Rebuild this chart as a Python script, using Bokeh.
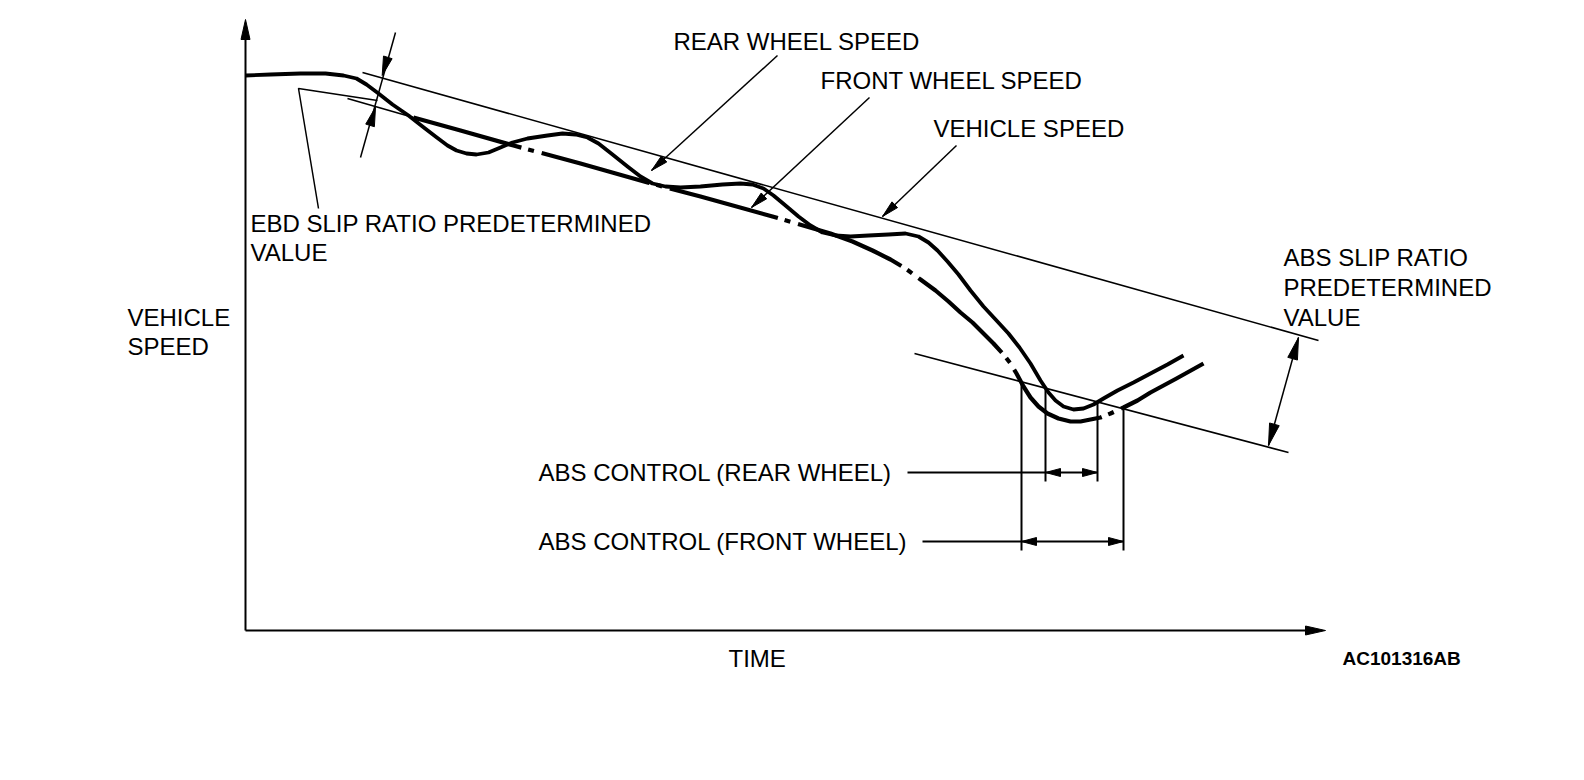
import math
from bokeh.plotting import figure
from bokeh.models import Range1d
from bokeh.core.properties import value
from bokeh.embed import file_html
from bokeh.resources import INLINE

# ---- data (time units along x, speed units along y; origin at axes corner) ----
rear_t = [0, 25, 55, 80, 98, 111, 121, 133, 147, 163, 177, 190, 202, 211, 221, 231, 243, 255, 267,
          282, 302, 317, 330, 342, 353, 367, 382, 395, 407, 420, 435, 455, 477, 495, 507, 518, 528,
          540, 553, 565, 577, 590, 605, 623, 643, 660, 673, 683, 692, 702, 713, 725, 738, 751, 763,
          774, 785, 795, 803, 810, 818, 828, 838, 848, 858, 872, 888, 905, 922, 938]
rear_v = [555, 556, 557, 557, 555, 552, 546, 537, 526, 515, 504, 494, 485, 480, 477, 476, 478, 483,
          488, 492, 495, 497, 496, 493, 487, 476, 464, 454, 447, 444, 443, 444, 446, 447, 446, 442,
          435, 425, 414, 405, 398, 395, 394, 395, 396, 397, 394, 388, 380, 369, 356, 340, 324, 310,
          297, 283, 267, 250, 238, 230, 224, 221, 222, 226, 232, 240, 248, 257, 266, 275]

front_t = [168, 215, 268, 335, 402, 455, 527, 585, 607, 627, 645, 660, 675, 690, 703, 715, 727, 738,
           748, 758, 765, 771, 778, 785, 793, 802, 813, 825, 835, 845, 855, 865, 878, 892, 905, 931,
           958]
front_v = [513, 500, 485, 467, 448, 434, 414, 397, 389, 380, 371, 362, 351, 340, 329, 318, 308, 297,
           287, 276, 267, 257, 244, 233, 224, 217, 212, 209, 209, 211, 213, 217, 223, 230, 238, 252,
           267]

vehicle_t = [117, 1073]
vehicle_v = [558, 290]

abs_limit_t = [669, 1043]
abs_limit_v = [277, 178]

ebd_limit_t = [102, 168]
ebd_limit_v = [532, 513]

ebd_leader_t = [73, 53, 132]
ebd_leader_v = [422, 542, 530]

# EBD dimension: outer ends and arrow tips
ebd_dim_end_t = [150, 115]
ebd_dim_end_v = [598, 473]
ebd_dim_tip_t = [136.7, 130]
ebd_dim_tip_v = [555, 523.3]

# ABS dimension tips (upper on vehicle speed, lower on ABS limit)
abs_dim_t = [1053, 1023]
abs_dim_v = [293, 185]

# ABS control boundaries
ctrl_t = [776, 800, 852, 878]
ctrl_top_v = [249, 243, 229, 222]
ctrl_bot_v = [80, 149, 149, 80]

rear_ctrl_v = 158
front_ctrl_v = 89
rear_ctrl_leader_t = 662
front_ctrl_leader_t = 677

# label pointers: (tail_t, tail_v, tip_t, tip_v)
pointer_tail_t = [532, 624, 711]
pointer_tail_v = [575, 533, 485]
pointer_tip_t = [406, 506, 637]
pointer_tip_v = [460, 423, 414]

axis_y_top = 611
axis_x_end = 1080

labels = ["REAR WHEEL SPEED", "FRONT WHEEL SPEED", "VEHICLE SPEED",
          "EBD SLIP RATIO PREDETERMINED", "VALUE",
          "VEHICLE", "SPEED",
          "ABS SLIP RATIO", "PREDETERMINED", "VALUE",
          "ABS CONTROL (REAR WHEEL)", "ABS CONTROL (FRONT WHEEL)", "TIME"]
label_t = [428, 575, 688, 5, 5, -118, -118, 1038, 1038, 1038, 293, 293, 483]
label_v = [589, 550, 502, 407, 378, 313, 284, 373, 343, 313, 158, 89, -28]

code_label = "AC101316AB"
code_t = 1097
code_v = -28

# ---- figure ----
p = figure(width=1568, height=764, x_range=Range1d(-245, 1323), y_range=Range1d(-134, 630),
           x_axis_type=None, y_axis_type=None, toolbar_location=None, output_backend="svg",
           min_border=0, outline_line_color=None, background_fill_color="white",
           border_fill_color="white")
p.grid.visible = False

BLACK = "black"


def head(tail_x, tail_y, tip_x, tip_y, L, W):
    dx, dy = tip_x - tail_x, tip_y - tail_y
    n = math.hypot(dx, dy)
    ux, uy = dx / n, dy / n
    bx, by = tip_x - L * ux, tip_y - L * uy
    px, py = -uy, ux
    return ([tip_x, bx + px * W / 2, bx - px * W / 2], [tip_y, by + py * W / 2, by - py * W / 2])


heads_x, heads_y = [], []


def add_head(*args):
    hx, hy = head(*args)
    heads_x.append(hx)
    heads_y.append(hy)


# axes
p.line([0, 0], [0, axis_y_top - 10], line_color=BLACK, line_width=2)
add_head(0, 0, 0, axis_y_top, 20, 9)
p.line([0, axis_x_end - 10], [0, 0], line_color=BLACK, line_width=2)
add_head(0, 0, axis_x_end, 0, 20, 9)

# thin reference lines
p.line(vehicle_t, vehicle_v, line_color=BLACK, line_width=1.6)
p.line(abs_limit_t, abs_limit_v, line_color=BLACK, line_width=1.6)
p.line(ebd_limit_t, ebd_limit_v, line_color=BLACK, line_width=1.6)
p.line(ebd_leader_t, ebd_leader_v, line_color=BLACK, line_width=1.5)

# EBD dimension
p.line(ebd_dim_end_t, ebd_dim_end_v, line_color=BLACK, line_width=1.5)
add_head(ebd_dim_end_t[0], ebd_dim_end_v[0], ebd_dim_tip_t[0], ebd_dim_tip_v[0], 19, 9)
add_head(ebd_dim_end_t[1], ebd_dim_end_v[1], ebd_dim_tip_t[1], ebd_dim_tip_v[1], 19, 9)

# ABS dimension
p.line(abs_dim_t, abs_dim_v, line_color=BLACK, line_width=1.5)
add_head(abs_dim_t[1], abs_dim_v[1], abs_dim_t[0], abs_dim_v[0], 22, 10)
add_head(abs_dim_t[0], abs_dim_v[0], abs_dim_t[1], abs_dim_v[1], 22, 10)

# wheel speed curves
p.line(rear_t, rear_v, line_color=BLACK, line_width=3.8, line_join="round")
p.line(front_t, front_v, line_color=BLACK, line_width=4.2, line_dash="112 7 6 8", line_join="round")

# ABS control verticals
for t, v0, v1 in zip(ctrl_t, ctrl_bot_v, ctrl_top_v):
    p.line([t, t], [v0, v1], line_color=BLACK, line_width=2)

# ABS control leaders and double arrows
p.line([rear_ctrl_leader_t, ctrl_t[2]], [rear_ctrl_v, rear_ctrl_v], line_color=BLACK, line_width=2)
add_head(ctrl_t[2], rear_ctrl_v, ctrl_t[1], rear_ctrl_v, 15, 8)
add_head(ctrl_t[1], rear_ctrl_v, ctrl_t[2], rear_ctrl_v, 15, 8)
p.line([front_ctrl_leader_t, ctrl_t[3]], [front_ctrl_v, front_ctrl_v], line_color=BLACK, line_width=2)
add_head(ctrl_t[3], front_ctrl_v, ctrl_t[0], front_ctrl_v, 15, 8)
add_head(ctrl_t[0], front_ctrl_v, ctrl_t[3], front_ctrl_v, 15, 8)

# label pointers
for a, b, c, d in zip(pointer_tail_t, pointer_tail_v, pointer_tip_t, pointer_tip_v):
    p.line([a, c], [b, d], line_color=BLACK, line_width=1.5)
    add_head(a, b, c, d, 17, 8)

p.patches(heads_x, heads_y, fill_color=BLACK, line_color=BLACK, line_width=1)

# texts
p.text(x=label_t, y=label_v, text=labels, text_font=value("Liberation Sans"),
       text_font_size=value("24px"), text_color=BLACK, text_baseline="alphabetic",
       text_align="left")
p.text(x=[code_t], y=[code_v], text=[code_label], text_font=value("Liberation Sans"),
       text_font_size=value("19px"), text_font_style="bold", text_color=BLACK,
       text_baseline="alphabetic", text_align="left")

open("out.html", "w").write(file_html(p, INLINE))
